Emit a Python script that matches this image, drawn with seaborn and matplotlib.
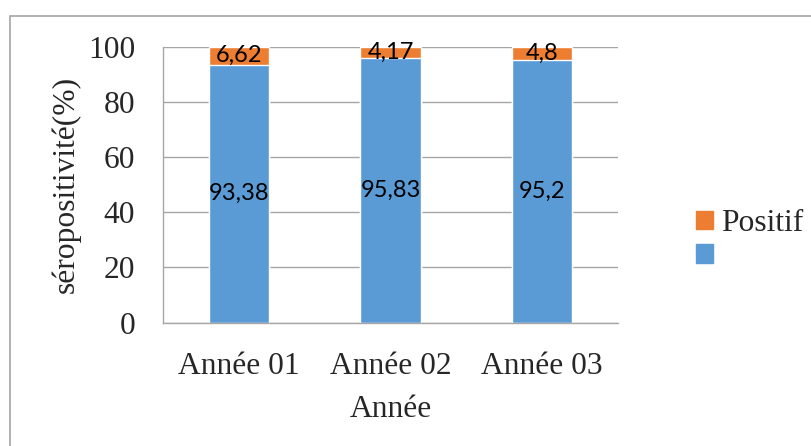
import matplotlib
matplotlib.use("Agg")
import matplotlib.pyplot as plt
import matplotlib.patches as mpatches
import seaborn as sns
import pandas as pd

annees = ["Année 01", "Année 02", "Année 03"]
negatif = [93.38, 95.83, 95.2]
positif = [6.62, 4.17, 4.8]
negatif_txt = ["93,38", "95,83", "95,2"]
positif_txt = ["6,62", "4,17", "4,8"]
y_ticks = [0, 20, 40, 60, 80, 100]

BLUE = "#5B9BD5"
ORANGE = "#ED7D31"
GRID = "#A6A6A6"
FS = 22.7

sns.set_theme(style="white")
plt.rcParams["font.family"] = ["Liberation Serif", "DejaVu Serif"]

df = pd.DataFrame({
    "Année": annees,
    "Négatif": negatif,
    "Positif": positif,
})
df["Total"] = df["Négatif"] + df["Positif"]

fig = plt.figure(figsize=(8.11, 4.46), dpi=100)
ax = fig.add_axes([0.201, 0.2765, 0.561, 0.6188])

# stacked bars: full height in orange, lower part overlaid in blue
sns.barplot(data=df, x="Année", y="Total", color=ORANGE, width=0.4,
            saturation=1, ax=ax, zorder=3)
sns.barplot(data=df, x="Année", y="Négatif", color=BLUE, width=0.4,
            saturation=1, ax=ax, zorder=4)

label_font = dict(family=["Lato", "DejaVu Sans"], fontsize=17, color="black")
for i in range(len(annees)):
    ax.text(i, negatif[i] / 2, negatif_txt[i], ha="center", va="center",
            zorder=6, **label_font)
    ax.text(i, negatif[i] + positif[i] / 2, positif_txt[i], ha="center",
            va="center", zorder=6, **label_font)

ax.set_ylim(0, 100)
ax.set_xlim(-0.5, 2.5)
ax.set_yticks(y_ticks)
ax.set_yticklabels([str(v) for v in y_ticks], fontsize=FS)
ax.set_xticks(range(len(annees)))
ax.set_xticklabels(annees, fontsize=FS)
ax.set_xticks([-0.5, 0.5, 1.5, 2.5], minor=True)
ax.tick_params(axis="x", which="major", length=0, pad=21)
ax.tick_params(axis="x", which="minor", length=9, width=1, color=GRID,
               direction="out")
ax.tick_params(axis="y", length=9, width=1, color=GRID, direction="out",
               pad=11)

ax.yaxis.grid(True, color=GRID, linewidth=1, zorder=0)
ax.set_axisbelow(True)
for side in ["top", "right"]:
    ax.spines[side].set_visible(False)
for side in ["left", "bottom"]:
    ax.spines[side].set_color(GRID)
    ax.spines[side].set_linewidth(1)
    ax.spines[side].set_zorder(5)

ax.set_xlabel("Année", fontsize=FS, labelpad=10)
ax.set_ylabel("séropositivité(%)", fontsize=FS, labelpad=5)

handles = [mpatches.Patch(color=ORANGE), mpatches.Patch(color=BLUE)]
fig.legend(handles, ["Positif", ""], loc="upper left",
           bbox_to_anchor=(0.858, 0.531), frameon=False, fontsize=FS,
           handlelength=0.54, handleheight=0.54, handletextpad=0.25,
           labelspacing=0.13, borderaxespad=0, borderpad=0)

# outer chart frame
frame = mpatches.Rectangle((10 / 811, -0.05), 1.1, 1 - 15.7 / 446 + 0.05,
                           transform=fig.transFigure, fill=False,
                           edgecolor="#A6A6A6", linewidth=1.2,
                           clip_on=False)
fig.patches.append(frame)

fig.savefig("out.png", dpi=100)
